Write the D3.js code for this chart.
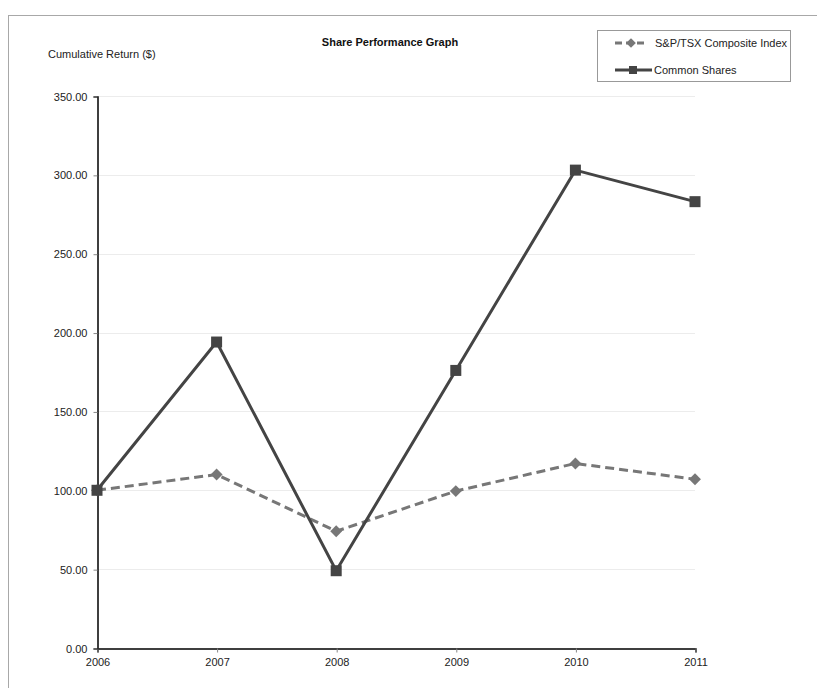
<!DOCTYPE html>
<html>
<head>
<meta charset="utf-8">
<script src="https://cdn.jsdelivr.net/npm/d3@7/dist/d3.min.js"></script>
<style>
  html, body { margin: 0; padding: 0; background: #fff; }
  svg { display: block; font-family: "Liberation Sans", Arial, sans-serif; }
</style>
</head>
<body>
<script>
// Cumulative return of $100 invested at the end of 2006
const years = ["2006", "2007", "2008", "2009", "2010", "2011"];
const tsxIndex = [100.00, 110.00, 74.00, 99.50, 117.00, 107.00];
const commonShares = [100.00, 194.00, 49.00, 176.00, 303.00, 283.00];
const yTicks = [0, 50, 100, 150, 200, 250, 300, 350];

const W = 817, H = 688;
const svg = d3.select("body").append("svg").attr("width", W).attr("height", H);

// outer frame (runs off the right and bottom edges)
svg.append("rect")
  .attr("x", 8.5).attr("y", 15.5).attr("width", 900).attr("height", 900)
  .attr("fill", "none").attr("stroke", "#a8a8a8").attr("stroke-width", 1);

const plot = { left: 97, right: 695, top: 96, bottom: 648 };

const x = d3.scalePoint().domain(years).range([plot.left, plot.right]);
const y = d3.scaleLinear().domain([0, 350]).range([plot.bottom, plot.top]);

// horizontal gridlines
svg.append("g").selectAll("line").data(yTicks.filter(v => v > 0)).join("line")
  .attr("x1", plot.left).attr("x2", plot.right)
  .attr("y1", d => Math.round(y(d)) + 0.5).attr("y2", d => Math.round(y(d)) + 0.5)
  .attr("stroke", "#ececec").attr("stroke-width", 1);

// y axis
const yAxis = svg.append("g")
  .attr("transform", `translate(${plot.left + 0.5},0.5)`)
  .call(d3.axisLeft(y).tickValues(yTicks).tickFormat(d3.format(".2f")).tickSize(4).tickPadding(6));
yAxis.select(".domain").attr("stroke", "#000").attr("stroke-width", 1.5);
yAxis.selectAll(".tick line").attr("stroke", "#888");
yAxis.selectAll(".tick text").attr("font-size", 11).attr("fill", "#222")
  .attr("font-family", "Liberation Sans, Arial, sans-serif");

// x axis
const xAxis = svg.append("g")
  .attr("transform", `translate(0.5,${plot.bottom + 0.5})`)
  .call(d3.axisBottom(x).tickSize(4).tickPadding(6));
xAxis.select(".domain").attr("stroke", "#000").attr("stroke-width", 1.5);
xAxis.selectAll(".tick line").attr("stroke", "#888");
xAxis.selectAll(".tick text").attr("font-size", 11).attr("fill", "#222")
  .attr("font-family", "Liberation Sans, Arial, sans-serif");

const line = d3.line().x((d, i) => x(years[i])).y(d => y(d));

// S&P/TSX Composite Index: dashed grey line with diamonds
svg.append("path").datum(tsxIndex)
  .attr("d", line).attr("fill", "none")
  .attr("stroke", "#777").attr("stroke-width", 3).attr("stroke-dasharray", "9,5");
svg.append("g").selectAll("path").data(tsxIndex).join("path")
  .attr("d", d3.symbol(d3.symbolDiamond2, 90))
  .attr("transform", (d, i) => `translate(${x(years[i])},${y(d)})`)
  .attr("fill", "#777");

// Common Shares: solid dark line with squares
svg.append("path").datum(commonShares)
  .attr("d", line).attr("fill", "none")
  .attr("stroke", "#444").attr("stroke-width", 3);
svg.append("g").selectAll("rect").data(commonShares).join("rect")
  .attr("x", (d, i) => x(years[i]) - 5.5).attr("y", d => y(d) - 5.5)
  .attr("width", 11).attr("height", 11).attr("fill", "#444");

// titles
svg.append("text").attr("x", 390).attr("y", 46).attr("text-anchor", "middle")
  .attr("font-size", 11).attr("font-weight", "bold").attr("fill", "#111")
  .text("Share Performance Graph");
svg.append("text").attr("x", 48).attr("y", 58)
  .attr("font-size", 11).attr("fill", "#222")
  .text("Cumulative Return ($)");

// legend
const lg = svg.append("g");
lg.append("rect").attr("x", 597.5).attr("y", 30.5).attr("width", 193).attr("height", 51)
  .attr("fill", "#fff").attr("stroke", "#999");
lg.append("line").attr("x1", 615).attr("x2", 647).attr("y1", 43).attr("y2", 43)
  .attr("stroke", "#777").attr("stroke-width", 3).attr("stroke-dasharray", "7,4");
lg.append("path").attr("d", d3.symbol(d3.symbolDiamond2, 60))
  .attr("transform", "translate(631,43)").attr("fill", "#777");
lg.append("text").attr("x", 655).attr("y", 47).attr("font-size", 11).attr("fill", "#222")
  .text("S&P/TSX Composite Index");
lg.append("line").attr("x1", 615).attr("x2", 652).attr("y1", 70).attr("y2", 70)
  .attr("stroke", "#444").attr("stroke-width", 3);
lg.append("rect").attr("x", 629).attr("y", 66).attr("width", 8).attr("height", 8).attr("fill", "#444");
lg.append("text").attr("x", 654).attr("y", 74).attr("font-size", 11).attr("fill", "#222")
  .text("Common Shares");
</script>
</body>
</html>
